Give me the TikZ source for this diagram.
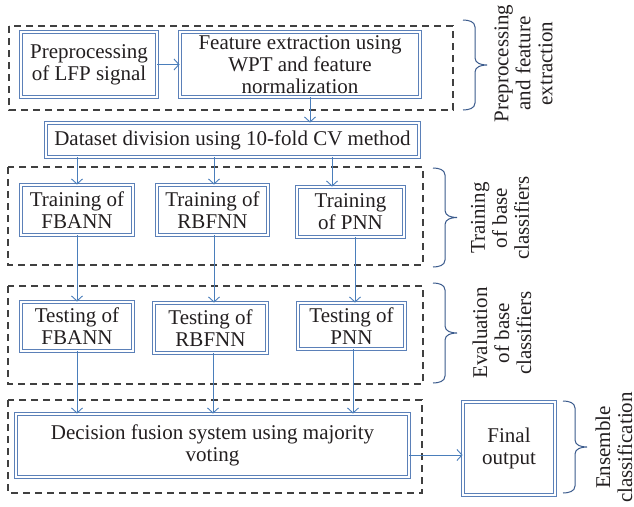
\documentclass[tikz,border=0pt]{standalone}
\usepackage{fontspec}
\setmainfont{Liberation Serif}
\usetikzlibrary{arrows.meta}

\definecolor{boxblue}{HTML}{5B80B8}
\definecolor{arrblue}{HTML}{4A7EBB}
\definecolor{dashgray}{HTML}{404040}
\definecolor{brcblue}{HTML}{3A5A8C}
\definecolor{txtgray}{HTML}{231F20}

% curly brace on the right of a stage: x, top, bottom
\newcommand{\sidebrace}[3]{%
  \draw[brc] (#1,#2) to[out=0,in=90] (#1+12,#2+7) -- (#1+12,{(#2+#3)/2-7})
    to[out=-90,in=180] (#1+24,{(#2+#3)/2}) to[out=180,in=90] (#1+12,{(#2+#3)/2+7})
    -- (#1+12,#3-7) to[out=-90,in=0] (#1,#3);}

\begin{document}
\begin{tikzpicture}[
        x=1pt, y=-1pt,
        every node/.style={font=\fontsize{21}{22}\selectfont, align=center, text=txtgray, inner sep=0pt},
        block/.style={draw=boxblue, double=white, double distance=2pt, line width=0.9pt},
        stage/.style={draw=dashgray, line width=1.1pt, dash pattern=on 7pt off 5pt},
        arr/.style={draw=arrblue, line width=0.9pt, ->},
        brc/.style={draw=brcblue, line width=1pt},
        >={Straight Barb[length=5pt,width=11pt]}
    ]
    \useasboundingbox (0,0) rectangle (634,506);

    % Stages
    \draw[stage] (9,26) rectangle (453,110);
    \draw[stage] (8,167) rectangle (423,265);
    \draw[stage] (8,286) rectangle (423,384);
    \draw[stage] (8,400) rectangle (422,493);

    % Nodes
    \node[block, minimum width=136pt, minimum height=65pt] (prep) at (89,64.5) {Preprocessing\\of LFP signal};
    \node[block, minimum width=240pt, minimum height=65pt] (feat) at (300,64.5) {Feature extraction using\\WPT and feature\\normalization};
    \node[block, minimum width=373pt, minimum height=34pt] (data) at (232.5,140) {Dataset division using 10-fold CV method};

    \node[block, minimum width=112pt, minimum height=50pt] (trfb) at (77,210) {Training of\\FBANN};
    \node[block, minimum width=111pt, minimum height=50pt] (trrb) at (212.5,210) {Training of\\RBFNN};
    \node[block, minimum width=107pt, minimum height=50pt] (trpn) at (350.5,212) {Training\\of PNN};

    \node[block, minimum width=112pt, minimum height=49pt] (tefb) at (77,326.5) {Testing of\\FBANN};
    \node[block, minimum width=113pt, minimum height=50pt] (terb) at (210.5,328) {Testing of\\RBFNN};
    \node[block, minimum width=107pt, minimum height=46pt] (tepn) at (351.5,326) {Testing of\\PNN};

    \node[block, minimum width=393pt, minimum height=63pt] (dec) at (212.5,445.5) {Decision fusion system using majority\\voting};
    \node[block, minimum width=92pt, minimum height=93pt] (fin) at (509,448.5) {Final\\output};

    % Stage labels
    \sidebrace{463}{20}{110}
    \sidebrace{433}{168}{267}
    \sidebrace{433}{283}{383}
    \sidebrace{563}{401}{493}
    \node[rotate=90] (lbpre) at (523.5,63.5) {Preprocessing\\and feature\\extraction};
    \node[rotate=90] (lbtrn) at (500,218) {Training\\of base\\classifiers};
    \node[rotate=90] (lbevl) at (502,333) {Evaluation\\of base\\classifiers};
    \node[rotate=90] (lbens) at (614,447.5) {Ensemble\\classification};

    % Edges
    \draw[arr] (prep) -- (feat);
    \draw[arr] ([xshift=10pt]feat.south) -- ([xshift=10pt]feat.south |- data.north);
    \draw[arr] (trfb |- data.south) -- (trfb);
    \draw[arr] ([xshift=1.5pt]trrb.north |- data.south) -- ([xshift=1.5pt]trrb.north);
    \draw[arr] ([xshift=-18.5pt]trpn.north |- data.south) -- ([xshift=-18.5pt]trpn.north);
    \draw[arr] (trfb) -- (tefb);
    \draw[arr] ([xshift=1.5pt]trrb.south) -- ([xshift=1.5pt]trrb.south |- terb.north);
    \draw[arr] ([xshift=4.5pt]trpn.south) -- ([xshift=4.5pt]trpn.south |- tepn.north);
    \draw[arr] (tefb) -- (tefb |- dec.north);
    \draw[arr] ([xshift=2.5pt]terb.south) -- ([xshift=2.5pt]terb.south |- dec.north);
    \draw[arr] ([xshift=1.5pt]tepn.south) -- ([xshift=1.5pt]tepn.south |- dec.north);
    \draw[arr] ([yshift=-9.5pt]dec.east) -- ([yshift=-9.5pt]dec.east -| fin.west);
\end{tikzpicture}
\end{document}
